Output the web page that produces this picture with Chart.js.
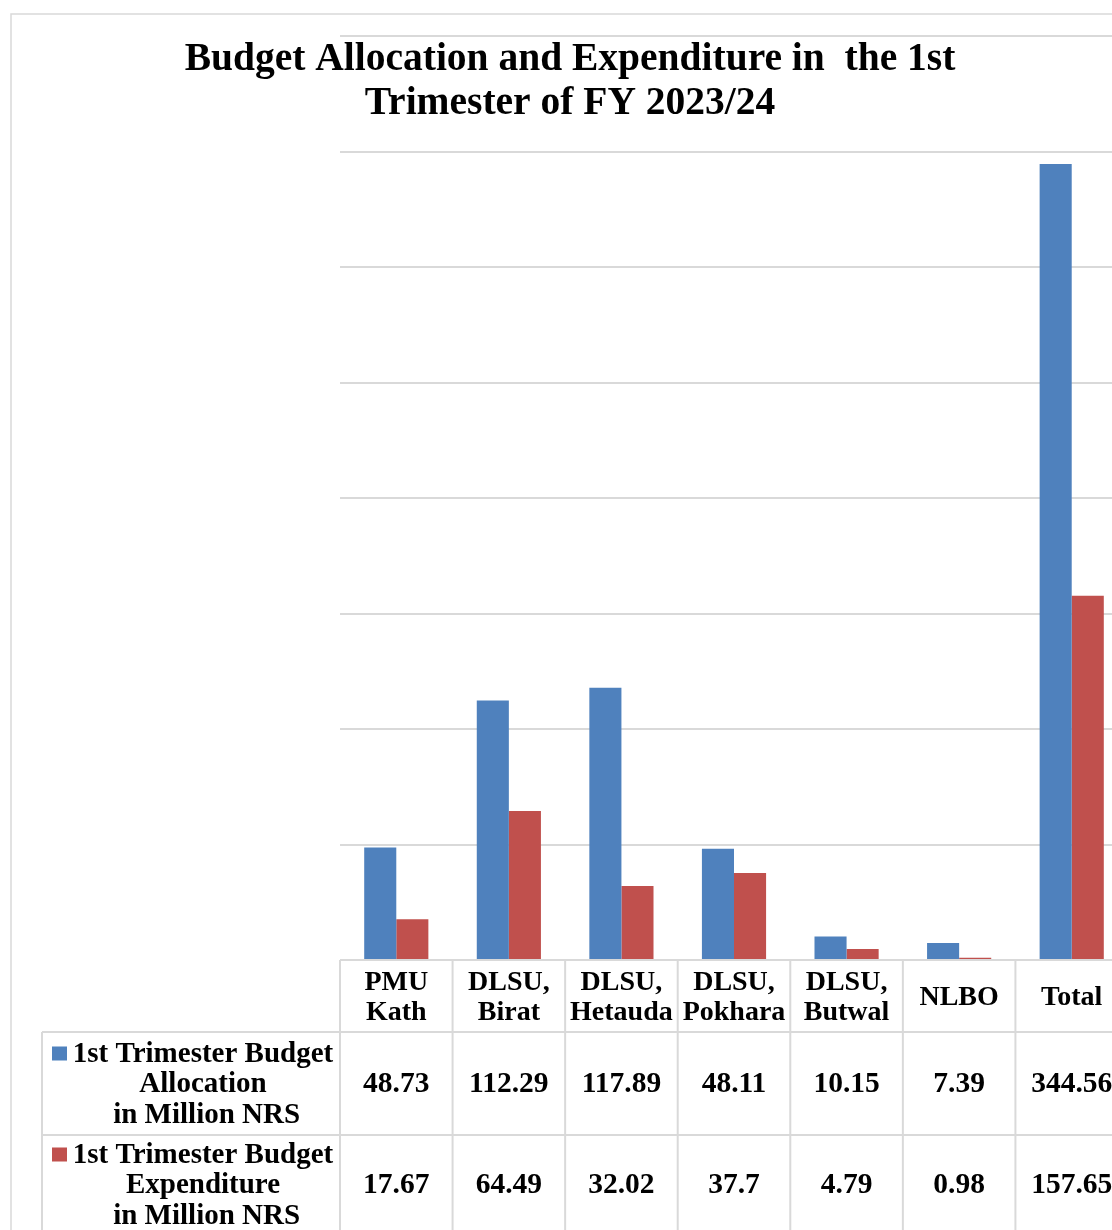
<!DOCTYPE html>
<html>
<head>
<meta charset="utf-8">
<title>Budget Allocation and Expenditure</title>
<script src="https://cdn.jsdelivr.net/npm/chart.js@4.4.1/dist/chart.umd.min.js"></script>
<style>
  html, body { margin: 0; padding: 0; background: #ffffff; overflow: hidden; width: 1112px; height: 1230px; }
  #wrap { position: absolute; left: 0; top: 0; width: 1140px; height: 1240px; }
</style>
</head>
<body>
<div id="wrap"><canvas id="chart"></canvas></div>
<script>
// Office units, first trimester of FY 2023/24
const categories = [["PMU", "Kath"], ["DLSU,", "Birat"], ["DLSU,", "Hetauda"], ["DLSU,", "Pokhara"], ["DLSU,", "Butwal"], ["NLBO"], ["Total"]];
// Million NRS
const allocation = [48.73, 112.29, 117.89, 48.11, 10.15, 7.39, 344.56];
const expenditure = [17.67, 64.49, 32.02, 37.7, 4.79, 0.98, 157.65];
const seriesLabels = [
  ["1st Trimester Budget", "Allocation", " in Million NRS"],
  ["1st Trimester Budget", "Expenditure", " in Million NRS"]
];
const titleLines = ["Budget Allocation and Expenditure in  the 1st", "Trimester of FY 2023/24"];
const yMin = 0, yMax = 400, yStep = 50;

const BLUE = "#4F81BD";
const RED = "#C0504D";
const LINE = "#d9d9d9";
const SERIF = "'Liberation Serif', 'DejaVu Serif', serif";

// Chart frame and title
const framePlugin = {
  id: "frame",
  beforeDraw(chart) {
    const ctx = chart.ctx;
    ctx.save();
    ctx.strokeStyle = LINE;
    ctx.lineWidth = 1.5;
    ctx.beginPath();
    ctx.moveTo(11, chart.height + 5);
    ctx.lineTo(11, 14);
    ctx.lineTo(chart.width + 5, 14);
    ctx.stroke();
    ctx.restore();
  },
  afterDraw(chart) {
    const ctx = chart.ctx;
    ctx.save();
    ctx.fillStyle = "#000";
    ctx.font = "bold 39.5px " + SERIF;
    ctx.textAlign = "center";
    ctx.textBaseline = "alphabetic";
    const cx = 570;
    titleLines.forEach((t, i) => ctx.fillText(t, cx, 69.5 + i * 44));
    ctx.restore();
  }
};

// Data table under the plot: category header row, then one row per series
const tablePlugin = {
  id: "dataTable",
  afterDraw(chart) {
    const ctx = chart.ctx;
    const xs = chart.scales.x;
    const n = categories.length;
    const cw = (xs.right - xs.left) / n;
    const L = xs.left, R = xs.right;
    const top = chart.chartArea.bottom;
    const hdrH = 72, rowH = 103;
    const rowTops = [top + hdrH, top + hdrH + rowH];
    const bottom = top + hdrH + 2 * rowH;
    const keyLeft = 42;

    ctx.save();
    ctx.strokeStyle = LINE;
    ctx.lineWidth = 2;
    ctx.beginPath();
    ctx.moveTo(L, top); ctx.lineTo(R, top);
    [rowTops[0], rowTops[1], bottom].forEach(y => { ctx.moveTo(keyLeft, y); ctx.lineTo(R, y); });
    for (let i = 0; i <= n; i++) {
      const x = L + i * cw;
      ctx.moveTo(x, top); ctx.lineTo(x, bottom);
    }
    ctx.moveTo(keyLeft, rowTops[0]); ctx.lineTo(keyLeft, bottom);
    ctx.stroke();

    const lh = 30.5;
    const capHalf = 9;
    ctx.fillStyle = "#000";
    ctx.textAlign = "center";
    ctx.textBaseline = "alphabetic";

    // header
    ctx.font = "bold 28px " + SERIF;
    const hc = top + hdrH / 2;
    categories.forEach((lines, i) => {
      const x = xs.getPixelForValue(i);
      lines.forEach((t, j) => {
        const y = hc + (j - (lines.length - 1) / 2) * lh + capHalf;
        ctx.fillText(t, x, y);
      });
    });

    // series rows
    const datasets = chart.data.datasets;
    datasets.forEach((ds, r) => {
      const rc = rowTops[r] + 51 - r * 2;
      const lines = seriesLabels[r];
      const textCx = 203;
      ctx.font = "bold 29px " + SERIF;
      lines.forEach((t, j) => {
        const y = rc + (j - (lines.length - 1) / 2) * lh + capHalf;
        ctx.fillText(t, textCx, y);
      });
      // legend key
      const firstY = rc - lh + capHalf;
      ctx.fillStyle = ds.backgroundColor;
      ctx.fillRect(52, firstY - 15, 15, 14);
      ctx.fillStyle = "#000";
      // values
      ctx.font = "bold 29.5px " + SERIF;
      ds.data.forEach((v, i) => {
        ctx.fillText(String(v), xs.getPixelForValue(i), rc + capHalf);
      });
    });
    ctx.restore();
  }
};

new Chart(document.getElementById("chart"), {
  type: "bar",
  data: {
    labels: categories,
    datasets: [
      { label: seriesLabels[0].join(" "), data: allocation, backgroundColor: BLUE, borderWidth: 0 },
      { label: seriesLabels[1].join(" "), data: expenditure, backgroundColor: RED, borderWidth: 0 }
    ]
  },
  options: {
    responsive: true,
    maintainAspectRatio: false,
    animation: false,
    events: [],
    layout: { padding: { left: 340, right: 12, top: 36, bottom: 280 } },
    datasets: { bar: { categoryPercentage: 0.57, barPercentage: 1.0 } },
    plugins: { legend: { display: false }, title: { display: false }, tooltip: { enabled: false } },
    scales: {
      x: { display: false },
      y: {
        display: true,
        min: yMin, max: yMax,
        ticks: { display: false, stepSize: yStep },
        border: { display: false },
        grid: { color: LINE, lineWidth: 2, drawTicks: false }
      }
    }
  },
  plugins: [framePlugin, tablePlugin]
});
</script>
</body>
</html>
